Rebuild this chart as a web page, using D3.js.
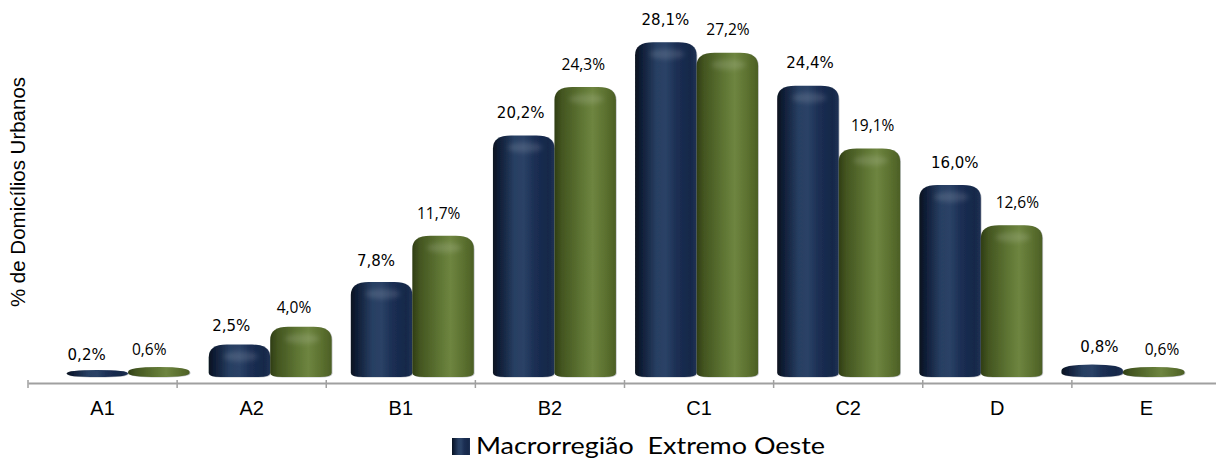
<!DOCTYPE html>
<html>
<head>
<meta charset="utf-8">
<script src="https://cdn.jsdelivr.net/npm/d3@7"></script>
<style>
  html, body { margin: 0; padding: 0; background: #ffffff; }
  svg { display: block; }
</style>
</head>
<body>
<svg id="chart" width="1216" height="458"></svg>
<script>
// Share of urban households by economic class (%)
const categories = ["A1", "A2", "B1", "B2", "C1", "C2", "D", "E"];
const extremoOeste = [0.2, 2.5, 7.8, 20.2, 28.1, 24.4, 16.0, 0.8];
const segundaSerie = [0.6, 4.0, 11.7, 24.3, 27.2, 19.1, 12.6, 0.6];
const legendLabel = "Macrorregião  Extremo Oeste";
const yTitle = "% de Domicílios Urbanos";

const svg = d3.select("#chart");

// Category axis spans the full width of the plot (continues past the right edge)
const x = d3.scaleBand().domain(categories).range([28, 1221]);
// The column pairs sit on a slightly narrower band (3-D perspective)
const xBar = d3.scaleBand().domain(categories).range([57, 1194]);
const y = d3.scaleLinear().domain([0, 30]).range([374, 19.7]);
const barW = 61.5;

const defs = svg.append("defs");

function cylGradient(id, stops) {
  const g = defs.append("linearGradient").attr("id", id)
    .attr("x1", "0%").attr("x2", "100%").attr("y1", "0%").attr("y2", "0%");
  stops.forEach(([o, c]) => g.append("stop").attr("offset", o).attr("stop-color", c));
}
cylGradient("gBlue", [
  ["0%", "#08121f"], ["10%", "#0f1d36"], ["35%", "#283f63"], ["50%", "#2a4266"],
  ["68%", "#1b2e53"], ["90%", "#162849"], ["100%", "#1e3154"]
]);
cylGradient("gGreen", [
  ["0%", "#2f3d15"], ["12%", "#435520"], ["45%", "#5f7634"], ["62%", "#6e8540"],
  ["85%", "#5a6f2e"], ["100%", "#4c5f26"]
]);

const soft = defs.append("filter").attr("id", "soft").attr("x", "-20%").attr("y", "-20%")
  .attr("width", "140%").attr("height", "140%");
soft.append("feGaussianBlur").attr("stdDeviation", 0.6);

const blurHi = defs.append("filter").attr("id", "blurHi").attr("x", "-50%").attr("y", "-50%")
  .attr("width", "200%").attr("height", "200%");
blurHi.append("feGaussianBlur").attr("stdDeviation", 2.5);

// Column outline: rounded cylinder-like top and slightly rounded base
function columnPath(x0, w, top, bottom) {
  const h = bottom - top;
  const flat = h < 16;
  const rxT = flat ? w / 2 : Math.min(18, w / 2);
  const ryT = Math.min(13, h * 0.5);
  const rxB = flat ? w / 2 : 12;
  const ryB = Math.min(4, h * 0.5);
  const x1 = x0 + w;
  return [
    `M${x0},${bottom - ryB}`,
    `L${x0},${top + ryT}`,
    `Q${x0},${top} ${x0 + rxT},${top}`,
    `L${x1 - rxT},${top}`,
    `Q${x1},${top} ${x1},${top + ryT}`,
    `L${x1},${bottom - ryB}`,
    `Q${x1},${bottom} ${x1 - rxB},${bottom}`,
    `L${x0 + rxB},${bottom}`,
    `Q${x0},${bottom} ${x0},${bottom - ryB}`,
    "Z"
  ].join(" ");
}

const base = y(0) + 3;
const minDepth = 7; // visible thickness of the base ellipse of a 3-D column
const series = [
  { values: extremoOeste, fill: "url(#gBlue)", offset: -barW },
  { values: segundaSerie, fill: "url(#gGreen)", offset: 0 }
];

const gBars = svg.append("g");
series.forEach(s => {
  categories.forEach((c, i) => {
    const cx = xBar(c) + xBar.bandwidth() / 2;
    const x0 = cx + s.offset;
    const top = Math.min(y(s.values[i]), base - minDepth);
    const d = columnPath(x0, barW, top, base);
    gBars.append("path").attr("d", d).attr("fill", "rgba(120,125,135,0.45)")
      .attr("transform", "translate(0.8,0.6)").attr("filter", "url(#soft)");
    gBars.append("path").attr("d", d).attr("fill", s.fill).attr("filter", "url(#soft)");
    if (base - top > 16) {
      gBars.append("ellipse").attr("cx", x0 + barW * 0.52).attr("cy", top + 12)
        .attr("rx", barW * 0.28).attr("ry", 5)
        .attr("fill", "#ffffff").attr("opacity", 0.13).attr("filter", "url(#blurHi)");
    }
  });
});

// Axis
const axis = d3.axisBottom(x).tickSizeOuter(0).tickFormat("");
const gAxis = svg.append("g").attr("transform", `translate(0,383)`).call(axis);
gAxis.select(".domain").attr("stroke", "#a0a0a0").attr("stroke-width", 2);
// tick marks sit at band boundaries
gAxis.selectAll(".tick").remove();
const bounds = categories.map(c => x(c));
gAxis.selectAll("line.bt").data(bounds).enter().append("line").attr("class", "bt")
  .attr("x1", d => d).attr("x2", d => d).attr("y1", -3).attr("y2", 5)
  .attr("stroke", "#a0a0a0").attr("stroke-width", 1.5);

svg.append("g").selectAll("text").data(categories).enter().append("text")
  .attr("x", c => x(c) + x.bandwidth() / 2)
  .attr("y", 415)
  .attr("text-anchor", "middle")
  .attr("font-family", "Liberation Sans, Arial, sans-serif")
  .attr("font-size", 20)
  .attr("fill", "#000")
  .text(c => c);

// Data labels
const fmt = v => d3.format(".1f")(v).replace(".", ",") + "%";
const labelSpecs = [
  { values: extremoOeste, offset: -barW / 2, font: "DejaVu Sans, sans-serif", size: 15 },
  { values: segundaSerie, offset: barW / 2, font: "Open Sans, sans-serif", size: 15.5 }
];
const gLab = svg.append("g");
labelSpecs.forEach(s => {
  categories.forEach((c, i) => {
    const v = s.values[i];
    const bc = xBar(c) + xBar.bandwidth() / 2 + s.offset;
    const lx = bc + (bc - 690) * 0.018;
    const ly = y(v) - (12 + Math.min(v, 12) * 0.45);
    gLab.append("text").attr("x", lx).attr("y", ly)
      .attr("text-anchor", "middle")
      .attr("font-family", s.font).attr("font-size", s.size)
      .attr("fill", "#000").text(fmt(v));
  });
});

// Y axis title
svg.append("text")
  .attr("transform", "translate(25,192) rotate(-90)")
  .attr("text-anchor", "middle")
  .attr("font-family", "Liberation Sans, Arial, sans-serif")
  .attr("font-size", 20.5)
  .attr("fill", "#000")
  .text(yTitle);

// Legend
svg.append("rect").attr("x", 452).attr("y", 438).attr("width", 18).attr("height", 17)
  .attr("fill", "url(#gBlue)");
svg.append("text").attr("x", 476).attr("y", 454)
  .attr("font-family", "Lato, Carlito, sans-serif")
  .attr("font-size", 24)
  .attr("fill", "#000")
  .attr("textLength", 349)
  .attr("lengthAdjust", "spacingAndGlyphs")
  .attr("xml:space", "preserve")
  .style("white-space", "pre")
  .text(legendLabel);
</script>
</body>
</html>
